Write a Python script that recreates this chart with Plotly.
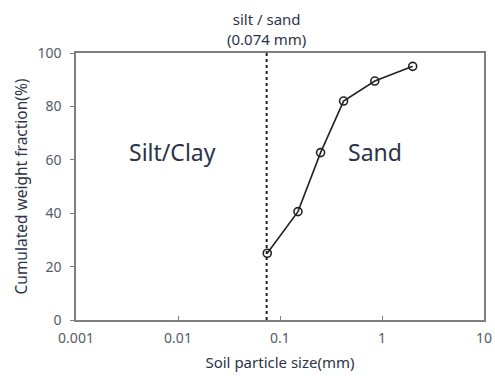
import plotly.graph_objects as go

sizes = [0.075, 0.15, 0.25, 0.42, 0.85, 2.0]
fractions = [25, 40.6, 62.7, 82, 89.5, 95]
boundary = 0.074
x_ticks = [0.001, 0.01, 0.1, 1, 10]
x_tick_labels = ["0.001", "0.01", "0.1", "1", "10"]
y_ticks = [0, 20, 40, 60, 80, 100]

font_family = "Noto Sans, Roboto, sans-serif"
text_col = "#2b3448"
tick_col = "#555b66"

fig = go.Figure()
fig.add_trace(go.Scatter(
    x=[boundary, boundary], y=[0, 100], mode="lines",
    line=dict(color="#222222", width=2, dash="dot"), showlegend=False, hoverinfo="skip"))
fig.add_trace(go.Scatter(
    x=sizes, y=fractions, mode="lines+markers",
    line=dict(color="#222222", width=1.6),
    marker=dict(symbol="circle-open", size=8, color="#222222", line=dict(width=1.6)),
    showlegend=False))

fig.add_annotation(x=-1.13, y=1, xref="x", yref="paper", yanchor="bottom", yshift=2,
                   text="silt / sand<br>(0.074 mm)", showarrow=False,
                   font=dict(size=15, color=text_col, family=font_family))
fig.add_annotation(x=-2.05, y=63, xref="x", yref="y", text="Silt/Clay", showarrow=False,
                   font=dict(size=23, color=text_col, family=font_family))
fig.add_annotation(x=-0.07, y=63, xref="x", yref="y", text="Sand", showarrow=False,
                   font=dict(size=23, color=text_col, family=font_family))

fig.update_layout(
    width=495, height=376,
    margin=dict(l=76, r=11, t=53, b=56),
    paper_bgcolor="white", plot_bgcolor="white",
    font=dict(family=font_family, color=tick_col, size=14),
    xaxis=dict(type="log", range=[-3, 1], tickvals=x_ticks, ticktext=x_tick_labels,
               showgrid=False, showline=True, linecolor="#7f7f7f", linewidth=1.5, mirror=True,
               ticks="inside", ticklen=4, tickcolor="#7f7f7f", ticklabelstandoff=4,
               automargin=False,
               title=dict(text="Soil particle size(mm)", font=dict(size=15, color=text_col), standoff=12),
               zeroline=False),
    yaxis=dict(range=[0, 100], tickvals=y_ticks, showgrid=False, showline=True,
               linecolor="#7f7f7f", linewidth=1.5, mirror=True,
               ticks="outside", ticklen=4, tickcolor="#7f7f7f", ticklabelstandoff=6,
               automargin=False,
               title=dict(text="Cumulated weight fraction(%)", font=dict(size=15.5, color=text_col), standoff=6),
               zeroline=False),
)

fig.write_html("out.html")
